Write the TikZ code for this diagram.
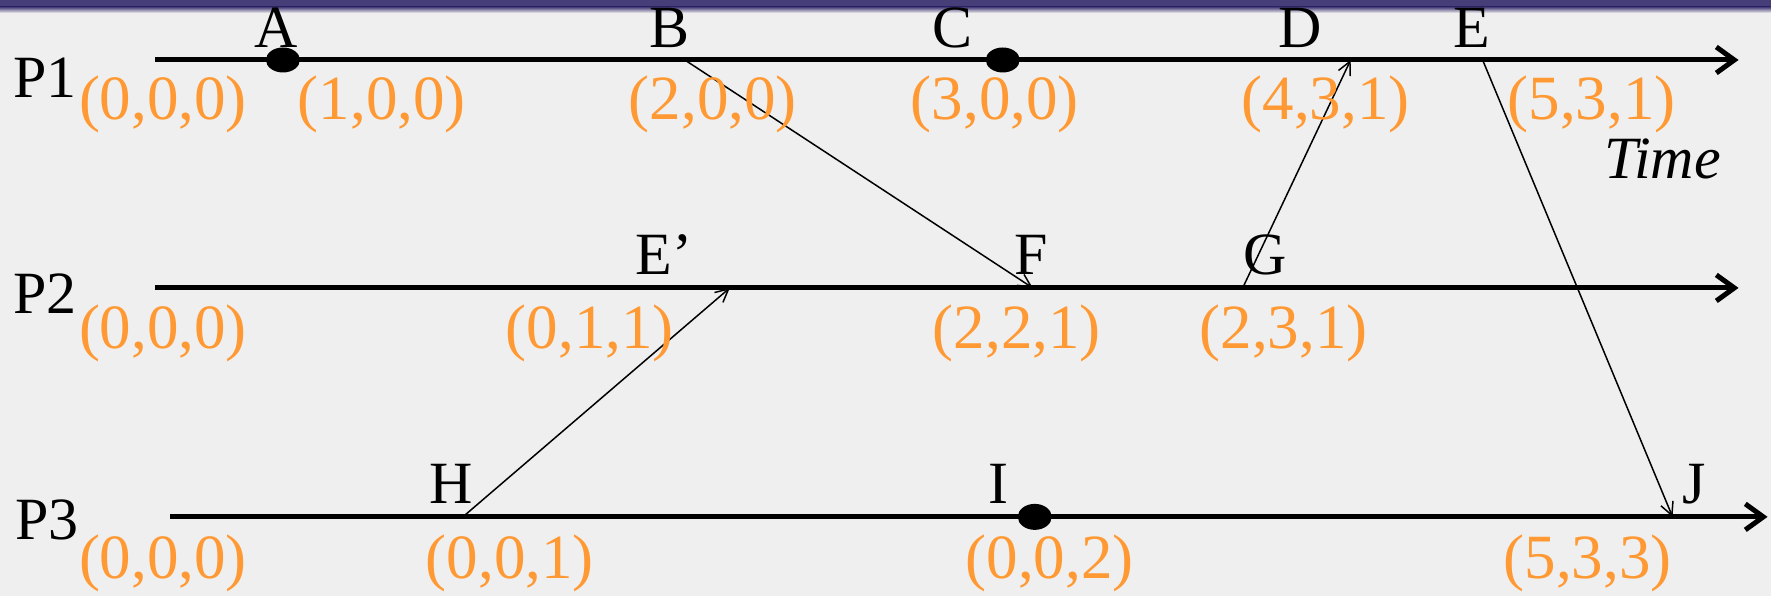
\documentclass[tikz,border=0pt]{standalone}
\usepackage{fontspec}
\setmainfont{Liberation Serif}
\usetikzlibrary{arrows.meta,positioning}
\definecolor{Bg}{HTML}{EFEFEF}
\definecolor{Bar}{HTML}{463E78}
\definecolor{Vec}{HTML}{FF9933}

\begin{document}
\begin{tikzpicture}[x=1pt,y=-1pt,
    font=\fontsize{60}{60}\selectfont,
    proc/.style={line width=5pt,-{Straight Barb[length=18pt,width=26pt]}},
    msg/.style={line width=1.5pt,-{Straight Barb[length=13pt,width=13pt]}},
    lbl/.style={anchor=base,inner sep=0pt},
    vec/.style={anchor=base,inner sep=0pt,text=Vec,font=\fontsize{63}{63}\selectfont}]
  % background and title bar
  \fill[Bg] (0,0) rectangle (1771,596);
  \fill[Bar] (0,0) rectangle (1771,7);
  \shade[top color=Bar,bottom color=Bg] (0,7) rectangle (1771,13);

  % process lines
  \coordinate (s1) at (155,60);  \coordinate (t1) at (1739,60);
  \coordinate (s2) at (155,288); \coordinate (t2) at (1739,288);
  \coordinate (s3) at (170,517); \coordinate (t3) at (1768,517);
  \node[lbl] (p1) at (45,98) {P1};
  \node[lbl] (p2) at (45,314) {P2};
  \node[lbl] (p3) at (47,540) {P3};
  \draw[proc] (s1) -- (t1);
  \draw[proc] (s2) -- (t2);
  \draw[proc] (s3) -- (t3);

  % events
  \coordinate (a) at (283,60);
  \coordinate (b) at (685,60);
  \coordinate (c) at (1003,60);
  \coordinate (d) at (1351,60);
  \coordinate (e) at (1483,60);
  \coordinate (e2) at (730,288);
  \coordinate (f) at (1033,288);
  \coordinate (g) at (1243,288);
  \coordinate (h) at (463,517);
  \coordinate (i) at (1035,517);
  \coordinate (j) at (1673,517);
  \fill (a) ellipse [x radius=17pt,y radius=12.5pt];
  \fill (c) ellipse [x radius=17pt,y radius=12.5pt];
  \fill (i) ellipse [x radius=17pt,y radius=13pt];

  % messages
  \draw[msg] (b) -- (f);
  \draw[msg] (g) -- (d);
  \draw[msg] (e) -- (j);
  \draw[msg] (h) -- (e2);

  % event names
  \node[lbl] (lA) at (276,48) {A};
  \node[lbl] (lB) at (670,48) {B};
  \node[lbl] (lC) at (953,48) {C};
  \node[lbl] (lD) at (1300,48) {D};
  \node[lbl] (lE) at (1472,48) {E};
  \node[lbl] (lE2) at (664,275) {E’};
  \node[lbl] (lF) at (1031,275) {F};
  \node[lbl] (lG) at (1265,275) {G};
  \node[lbl] (lH) at (451,504) {H};
  \node[lbl] (lI) at (999,504) {I};
  \node[lbl] (lJ) at (1695,504) {J};
  \node[lbl] (time) at (1663,179) {\textit{Time}};

  % vector clocks
  \node[vec] (v10) at (163,120) {(0,0,0)};
  \node[vec] (v11) at (382,120) {(1,0,0)};
  \node[vec] (v12) at (713,120) {(2,0,0)};
  \node[vec] (v13) at (995,120) {(3,0,0)};
  \node[vec] (v14) at (1326,120) {(4,3,1)};
  \node[vec] (v15) at (1592,120) {(5,3,1)};
  \node[vec] (v20) at (163,349) {(0,0,0)};
  \node[vec] (v21) at (590,349) {(0,1,1)};
  \node[vec] (v22) at (1017,349) {(2,2,1)};
  \node[vec] (v23) at (1284,349) {(2,3,1)};
  \node[vec] (v30) at (163,579) {(0,0,0)};
  \node[vec] (v31) at (510,579) {(0,0,1)};
  \node[vec] (v32) at (1050,579) {(0,0,2)};
  \node[vec] (v33) at (1588,579) {(5,3,3)};
\end{tikzpicture}
\end{document}
